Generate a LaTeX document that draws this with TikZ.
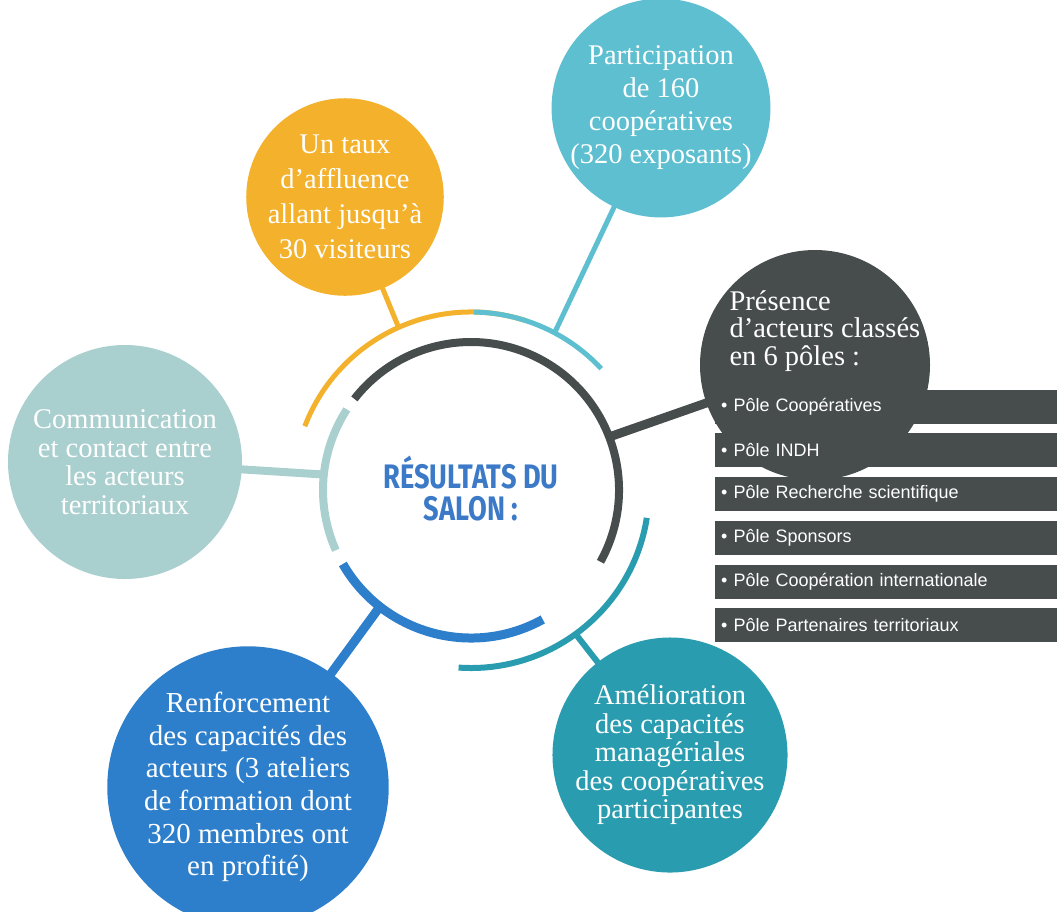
\documentclass[tikz,border=0pt]{standalone}
\usepackage{fontspec}
\setmainfont{Liberation Serif}
\newfontfamily\polefont{Liberation Sans}
\newfontfamily\titlefont[FakeStretch=0.8]{Fira Sans}
\usetikzlibrary{calc}

\definecolor{jaune}{HTML}{F3B12C}
\definecolor{turquoise}{HTML}{5DBFD0}
\definecolor{ardoise}{HTML}{474C4C}
\definecolor{gris}{HTML}{AACFCF}
\definecolor{bleu}{HTML}{2E7FCB}
\definecolor{canard}{HTML}{2A9CAF}
\definecolor{titre}{HTML}{3C7AC8}

\begin{document}
\begin{tikzpicture}[
    x=1pt, y=1pt,
    bulle/.style 2 args={circle, fill=#1, minimum size=#2, inner sep=0pt,
                         text=white, align=center},
    anneau/.style={draw=#1, line width=8pt},
    rayon/.style={draw=#1, line width=6pt, shorten >=-4pt},
    pole/.style={fill=ardoise, anchor=west, minimum height=34pt,
                 text width=330pt, inner sep=6pt, align=left, text=white,
                 font=\polefont\fontsize{18}{20}\selectfont},
  ]
  \useasboundingbox (0,0) rectangle (1057,-911);

  % centre and rings
  \coordinate (ctr) at (471,-490);
  \draw[anneau=ardoise] ($(ctr)+(-29:148)$) arc[start angle=-29, end angle=142, radius=148];
  \draw[anneau=gris] ($(ctr)+(147:148)$) arc[start angle=147, end angle=204, radius=148];
  \draw[anneau=bleu, line width=9pt] ($(ctr)+(210:148)$) arc[start angle=210, end angle=299, radius=148];
  \draw[anneau=jaune, line width=5pt] ($(ctr)+(72:178)$) arc[start angle=72, end angle=159, radius=178];
  \draw[anneau=turquoise, line width=5pt] ($(ctr)+(43:178)$) arc[start angle=43, end angle=89, radius=178];
  \draw[anneau=canard, line width=6pt] ($(ctr)+(-94:178)$) arc[start angle=-94, end angle=-9, radius=178];

  \node[font=\titlefont\bfseries\fontsize{34}{32}\selectfont, text=titre, align=center]
    (titre) at (471,-489) {RÉSULTATS DU\\SALON :};

  % bubbles
  \node[bulle={jaune}{192pt}, font=\fontsize{28.5}{35}\selectfont] (c1) at (345,-197)
    {Un taux\\d’affluence\\allant jusqu’à\\30 visiteurs};
  \node[bulle={turquoise}{200pt}, font=\fontsize{28.5}{33}\selectfont] (c2) at (661,-108)
    {Participation\\de 160\\coopératives\\(320 exposants)};
  \node[bulle={ardoise}{230pt}] (c3) at (815,-365) {};
  \node[bulle={gris}{234pt}, font=\fontsize{28.5}{28.5}\selectfont] (c4) at (125,-462)
    {Communication\\et contact entre\\les acteurs\\territoriaux};
  \node[bulle={bleu}{244pt}, font=\fontsize{29}{32.6}\selectfont] (c5) at (248,-787)
    {Renforcement\\des capacités des\\acteurs (3 ateliers\\de formation dont\\320 membres ont\\en profité)};
  \node[bulle={canard}{232pt}, font=\fontsize{28.5}{28.5}\selectfont] (c6) at (670,-755)
    {Amélioration\\des capacités\\managériales\\des coopératives\\participantes};

  \node[anchor=west, align=left, text=white, font=\fontsize{28.5}{27.5}\selectfont]
    (t3) at (726,-331) {Présence\\d’acteurs classés\\en 6 pôles :};

  % spokes
  \coordinate (p1) at ($(ctr)+(114:178)$);
  \coordinate (p2) at ($(ctr)+(62:178)$);
  \coordinate (p3) at ($(ctr)+(21:148)$);
  \coordinate (p4) at ($(ctr)+(174:148)$);
  \coordinate (p5) at ($(ctr)+(232:148)$);
  \coordinate (p6) at ($(ctr)+(-54:178)$);
  \draw[rayon=jaune, line width=5pt] (p1) -- (c1);
  \draw[rayon=turquoise, line width=5pt] (p2) -- (c2);
  \draw[rayon=ardoise, line width=9pt] (p3) -- (c3);
  \draw[rayon=gris, line width=8pt] (p4) -- (c4);
  \draw[rayon=bleu, line width=9pt] (p5) -- (c5);
  \draw[rayon=canard] (p6) -- (c6);

  % poles
  \foreach \y/\txt [count=\i] in {390/Coopératives, 433/INDH,
      477/Recherche scientifique, 521/Sponsors,
      565/Coopération internationale, 608/Partenaires territoriaux}
    \node[pole] (b\i) at (715,-\y-17) {• Pôle \txt};
\end{tikzpicture}
\end{document}
